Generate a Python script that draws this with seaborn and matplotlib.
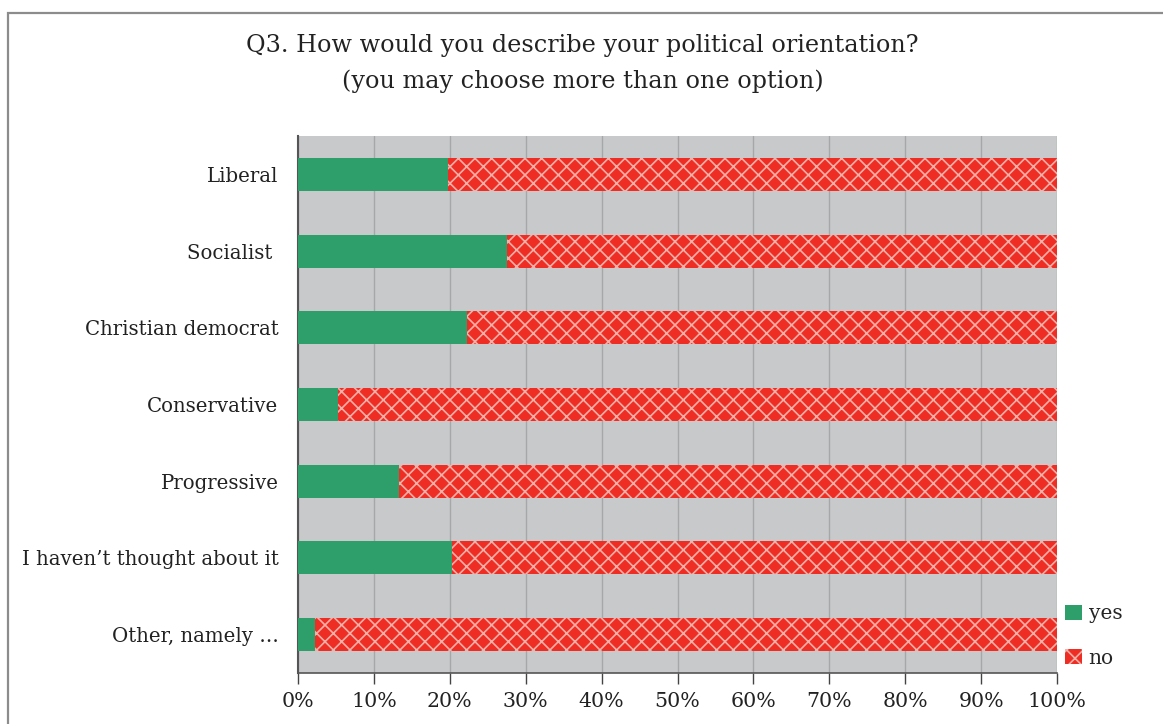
import matplotlib
matplotlib.use("Agg")
import matplotlib.pyplot as plt
from matplotlib.patches import Rectangle, Patch
from matplotlib.ticker import FixedLocator, PercentFormatter
import seaborn as sns
import pandas as pd
import numpy as np

categories = ["Liberal", "Socialist ", "Christian democrat", "Conservative",
              "Progressive", "I haven\u2019t thought about it", "Other, namely \u2026"]
yes = [19.8, 27.5, 22.3, 5.3, 13.3, 20.3, 2.2]
no = [100 - v for v in yes]

df = pd.DataFrame({"category": categories, "yes": yes, "no": no})
df["total"] = df["yes"] + df["no"]

sns.set_style("white")
plt.rcParams["font.family"] = ["DejaVu Serif"]
plt.rcParams["hatch.linewidth"] = 1.2

green = "#2E9E6B"
red = "#EE2E24"
hatchcol = "#F8AFA8"

fig = plt.figure(figsize=(11.63, 7.24), dpi=100)
ax = fig.add_axes([0.2562, 0.0704, 0.6527, 0.7418])
ax.set_facecolor("#C8C9CB")

sns.barplot(data=df, y="category", x="total", orient="h", color=red,
            width=0.43, ax=ax, hatch="xx", edgecolor=hatchcol, linewidth=0,
            saturation=1, zorder=2)
sns.barplot(data=df, y="category", x="yes", orient="h", color=green,
            width=0.43, ax=ax, linewidth=0, saturation=1, zorder=3)

ax.set_xlim(0, 100)
ax.set_ylim(len(categories) - 0.5, -0.5)
ax.set_xticks(np.arange(0, 101, 10))
ax.xaxis.set_major_formatter(PercentFormatter(decimals=0))
ax.grid(axis="x", color="#A6A7A9", linewidth=1, zorder=1)
ax.set_axisbelow(True)
ax.set_xlabel("")
ax.set_ylabel("")

ax.yaxis.set_minor_locator(FixedLocator(np.arange(-0.5, len(categories), 1)))
ax.tick_params(axis="y", which="major", length=0, pad=14, labelsize=14.2, colors="#222222")
ax.tick_params(axis="y", which="minor", length=8, width=1, color="#444444")
ax.tick_params(axis="x", which="major", length=8, width=1, color="#444444",
               direction="out", bottom=True, pad=6, labelsize=14.8, labelcolor="#222222")

for s in ["top", "right"]:
    ax.spines[s].set_visible(False)
ax.spines["left"].set_color("#555555")
ax.spines["left"].set_linewidth(1.5)
ax.spines["bottom"].set_color("#555555")
ax.spines["bottom"].set_linewidth(1.2)

fig.text(0.501, 0.937, "Q3. How would you describe your political orientation?",
         ha="center", va="center", fontsize=17.2, color="#222222")
fig.text(0.501, 0.888, "(you may choose more than one option)",
         ha="center", va="center", fontsize=17.2, color="#222222")

handles = [Patch(facecolor=green, edgecolor=green, linewidth=0),
           Patch(facecolor=red, edgecolor=hatchcol, hatch="xx", linewidth=0)]
fig.legend(handles, ["yes", "no"], loc="center left", bbox_to_anchor=(0.9005, 0.1215),
           frameon=False, fontsize=14.5, handlelength=0.8, handleheight=0.8,
           handletextpad=0.35, labelspacing=1.25)

fig.patches.append(Rectangle((8 / 1163, -0.1), 1.2, (724 - 13) / 724 + 0.1,
                             transform=fig.transFigure, fill=False,
                             edgecolor="#8C8C8C", linewidth=1.6))

fig.savefig("out.png", dpi=100)
